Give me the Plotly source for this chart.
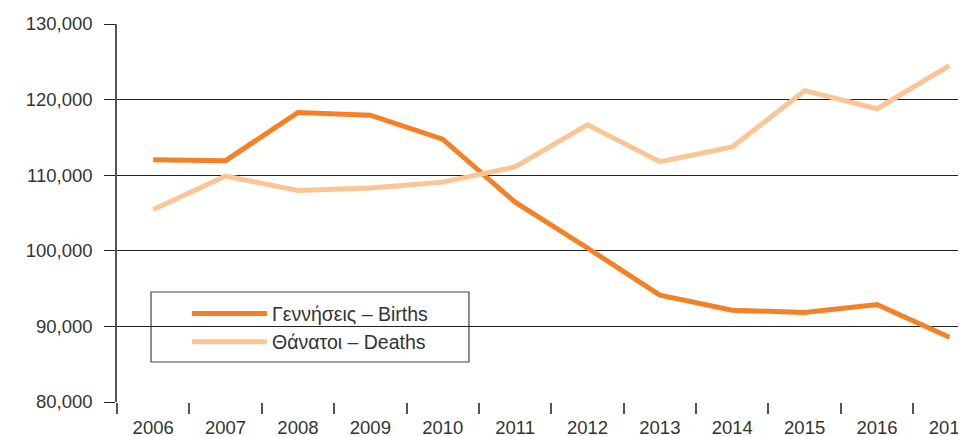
import plotly.graph_objects as go

years = ["2006", "2007", "2008", "2009", "2010", "2011", "2012", "2013", "2014", "2015", "2016", "2017"]
births = [112042, 111926, 118302, 117933, 114766, 106428, 100371, 94134, 92148, 91847, 92898, 88553]
deaths = [105476, 109895, 107979, 108316, 109084, 111099, 116668, 111794, 113740, 121183, 118788, 124501]
y_ticks = [80000, 90000, 100000, 110000, 120000, 130000]
y_labels = ["80,000", "90,000", "100,000", "110,000", "120,000", "130,000"]

fig = go.Figure()
fig.add_trace(go.Scatter(x=years, y=births, mode="lines", name="Γεννήσεις – Births",
                         legendgroup="b", line=dict(color="#F58025", width=5)))
fig.add_trace(go.Scatter(x=years, y=deaths, mode="lines", name="Θάνατοι – Deaths",
                         legendgroup="d", line=dict(color="#FDC494", width=5)))

# legend frame
fig.add_shape(type="rect", xref="paper", yref="paper",
              x0=0.0397, x1=0.4107, y0=0.1058, y1=0.291,
              line=dict(color="#444444", width=1.2), fillcolor="white", layer="below")

fig.update_layout(
    width=966, height=436,
    margin=dict(l=109, r=0, t=16, b=42, autoexpand=False),
    paper_bgcolor="white", plot_bgcolor="white",
    font=dict(family="Liberation Sans, Arial, sans-serif", size=17, color="#333333"),
    showlegend=True,
    legend=dict(x=0.0817, y=0.285, xanchor="left", yanchor="top",
                borderwidth=0, bgcolor="rgba(0,0,0,0)",
                font=dict(size=19.5, color="#333333"), itemwidth=75,
                traceorder="grouped", tracegroupgap=0),
)
fig.update_xaxes(type="category", range=[-0.5, 11.34], tickson="boundaries",
                 ticks="outside", ticklen=11, tickcolor="#555555", tickwidth=1.5,
                 showgrid=False, showline=False, zeroline=False, automargin=False,
                 ticklabelstandoff=12,
                 tickfont=dict(size=18.5, color="#333333"))
fig.update_yaxes(range=[80000, 130000], tickvals=y_ticks, ticktext=y_labels,
                 ticks="outside", ticklen=11, tickcolor="#222222", tickwidth=1,
                 showgrid=True, gridcolor="#222222", gridwidth=1.2,
                 showline=True, linecolor="#555555", linewidth=1.5, zeroline=False,
                 automargin=False, ticklabelstandoff=8,
                 tickfont=dict(size=18.5, color="#333333"))

fig.write_html("out.html")
